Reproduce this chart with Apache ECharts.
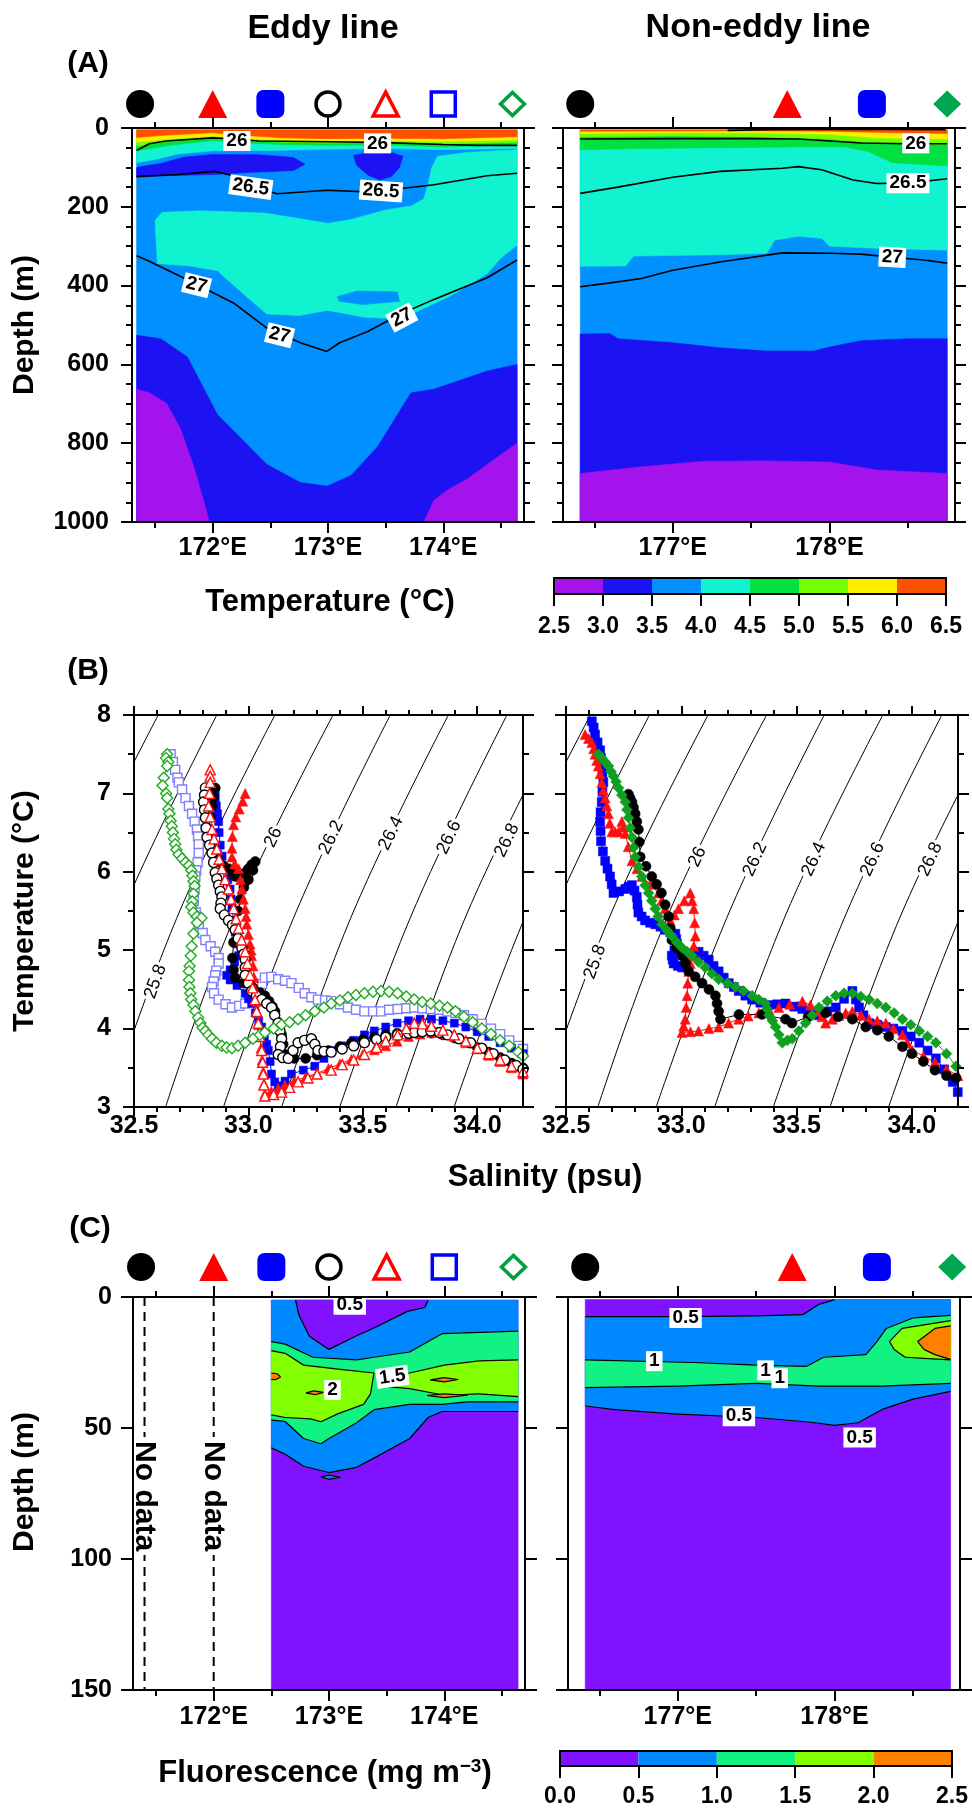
<!DOCTYPE html>
<html>
<head>
<meta charset="utf-8">
<script src="https://cdn.jsdelivr.net/npm/echarts@6.0.0/dist/echarts.min.js"></script>
<style>html,body{margin:0;padding:0;background:#fff;}#chart{width:972px;height:1814px;}</style>
</head>
<body>
<div id="chart"></div>
<script>
// ================= DATA =================
// Colour classes
const tempBreaks = [2.5,3.0,3.5,4.0,4.5,5.0,5.5,6.0,6.5];
const tempColors = ['#a412ec','#1c12f2','#0090ff','#10f2d0','#00e040','#72ff00','#ffee00','#ff5000'];
const fluoBreaks = [0,0.5,1.0,1.5,2.0,2.5];
const fluoColors = ['#8012ff','#0088ff','#12f282','#82ff00','#ff8000'];

// Station longitudes (marker rows)
const stationLonEddy = [171.37,172.0,172.5,173.0,173.5,174.0,174.6];
const stationLonNon = [176.41,177.73,178.27,178.75];

// Axis ticks
const lonTicksEddy = [172,173,174];
const lonMinorEddy = [171.5,172.5,173.5,174.5];
const lonTicksNon = [177,178];
const lonMinorNon = [176.5,177.5,178.5];
const salTicks = [32.5,33.0,33.5,34.0];
const salMinor = [32.6,32.7,32.8,32.9,33.1,33.2,33.3,33.4,33.6,33.7,33.8,33.9,34.1];

// ---- (A) Temperature section, eddy line : [lon, depth] outlines of colour classes
const A_eddy_base = [[171.34,5],[174.64,5],[174.64,1000],[171.34,1000]];
const A_eddy_deepBlue = [[171.34,526],[171.55,535],[171.78,581],[172.04,727],[172.47,854],[172.76,900],[172.99,909],[173.2,882],[173.43,809],[173.72,672],[173.92,663],[174.38,617],[174.64,600],[174.64,1000],[171.34,1000]];
const A_eddy_purpleW = [[171.34,663],[171.45,672],[171.6,699],[171.72,763],[171.83,854],[171.92,945],[171.97,1000],[171.34,1000]];
const A_eddy_purpleE = [[173.83,1000],[173.92,945],[174.04,918],[174.21,891],[174.38,854],[174.64,800],[174.64,1000]];
const A_eddy_cyanCore = [[171.50,235],[171.56,214],[171.9,210],[172.45,216],[172.75,230],[173.0,242],[173.2,232],[173.5,208],[173.72,198],[173.83,180],[173.87,140],[173.9,100],[173.95,72],[174.2,62],[174.64,55],[174.64,297],[174.5,330],[174.38,370],[174.07,425],[173.78,465],[173.63,485],[173.3,480],[173.1,468],[172.99,463],[172.75,476],[172.47,472],[172.3,430],[172.04,362],[171.8,350],[171.52,344]];
const A_eddy_tongue = [[173.08,428],[173.25,414],[173.6,416],[173.62,440],[173.3,448],[173.1,440]];
const A_eddy_top44 = [[171.34,5],[174.64,5],[174.64,52],[174.0,55],[173.5,52],[173.0,54],[172.5,57],[172.0,58],[171.7,66],[171.5,80],[171.34,88]];
const A_eddy_blobW = [[171.34,100],[171.34,125],[171.6,121],[172.0,118],[172.3,113],[172.7,108],[172.8,92],[172.7,75],[172.4,68],[172.0,67],[171.75,74],[171.55,90],[171.4,97]];
const A_eddy_blobE = [[173.22,70],[173.35,62],[173.55,62],[173.65,72],[173.62,100],[173.55,123],[173.45,132],[173.35,120],[173.25,95]];
const A_eddy_top45 = [[171.34,5],[174.64,5],[174.64,42],[174.0,48],[173.5,43],[173.0,44],[172.6,42],[172.3,38],[172.0,32],[171.6,45],[171.34,58]];
const A_eddy_top50 = [[171.34,5],[174.64,5],[174.64,36],[174.0,40],[173.5,37],[173.0,38],[172.6,36],[172.3,32],[172.0,26],[171.6,35],[171.34,46]];
const A_eddy_top55 = [[171.34,5],[174.64,5],[174.64,30],[174.0,34],[173.5,32],[173.0,33],[172.6,31],[172.3,27],[172.0,20],[171.6,28],[171.34,36]];
const A_eddy_top60 = [[171.34,5],[174.64,5],[174.64,22],[174.0,27],[173.5,26],[173.0,27],[172.6,25],[172.3,19],[172.0,12],[171.6,18],[171.34,24]];
// isopycnals (sigma-theta) on eddy section
const A_eddy_sig26 = [[171.34,57],[171.45,40],[171.6,33],[172.0,25],[172.2,28],[172.4,33],[173.0,35],[173.5,37],[174.0,42],[174.3,44],[174.64,44]];
const A_eddy_sig265 = [[171.34,123],[171.7,118],[172.01,110],[172.18,121],[172.35,150],[172.56,167],[172.99,158],[173.34,162],[173.6,155],[173.92,144],[174.38,121],[174.64,115]];
const A_eddy_sig27 = [[171.34,324],[171.45,338],[171.78,385],[172.18,444],[172.47,508],[172.76,545],[172.99,567],[173.1,545],[173.34,517],[173.63,472],[173.92,435],[174.38,380],[174.64,335]];
const A_eddy_labels = [['26',172.21,33,0],['26',173.43,39,0],['26.5',172.33,150,-8],['26.5',173.46,160,-4],['27',171.86,399,-14],['27',172.58,526,-14],['27',173.64,481,28]];

// ---- (A) Temperature section, non-eddy line
const A_non_base = [[176.41,5],[178.75,5],[178.75,1000],[176.41,1000]];
const A_non_cyan = [[176.41,5],[178.75,5],[178.75,310],[178.3,305],[178.0,300],[177.95,280],[177.8,275],[177.65,285],[177.6,318],[177.3,322],[176.75,325],[176.7,350],[176.41,351]];
const A_non_deepBlue = [[176.41,523],[176.6,522],[176.65,535],[177.0,545],[177.3,558],[177.6,566],[177.9,566],[178.0,556],[178.2,540],[178.5,535],[178.75,535],[178.75,1000],[176.41,1000]];
const A_non_purple = [[176.41,877],[176.8,860],[177.2,846],[177.6,845],[178.0,848],[178.3,868],[178.75,877],[178.75,1000],[176.41,1000]];
const A_non_top45 = [[176.41,5],[178.75,5],[178.75,96],[178.4,88],[178.25,60],[178.1,48],[177.8,48],[177.3,50],[176.8,52],[176.41,55]];
const A_non_top50 = [[176.41,5],[178.75,5],[178.75,42],[178.3,38],[178.0,28],[177.5,22],[177.0,20],[176.41,22]];
const A_non_top55 = [[176.41,5],[178.75,5],[178.75,28],[178.3,25],[178.0,16],[177.5,12],[177.0,12],[176.41,14]];
const A_non_top60 = [[176.41,5],[178.75,5],[178.75,14],[178.4,12],[178.0,8],[177.5,7],[176.41,8]];
const A_non_sigTop = [[177.35,6],[177.6,4],[178.1,3],[178.74,4]];
const A_non_sig26 = [[176.41,28],[177.0,27],[177.5,27],[177.8,28],[178.0,33],[178.2,38],[178.5,40],[178.75,40]];
const A_non_sig265 = [[176.41,166],[176.65,150],[177.0,125],[177.3,110],[177.7,102],[177.8,98],[177.95,106],[178.15,132],[178.3,141],[178.5,140],[178.75,129]];
const A_non_sig27 = [[176.41,403],[176.6,393],[176.8,382],[177.0,361],[177.3,340],[177.7,317],[178.0,318],[178.2,320],[178.4,328],[178.6,335],[178.75,343]];
const A_non_labels = [['26',178.55,39,0],['26.5',178.5,140,0],['27',178.4,328,-3]];

// ---- (C) Fluorescence section, eddy line
const C_eddy_base = [[172.5,1.2],[174.64,1.2],[174.64,150],[172.5,150]];
const C_eddy_upper = [[172.5,1.2],[174.64,1.2],[174.64,43.7],[173.98,43.7],[173.86,46],[173.7,54],[173.39,61.5],[173.24,65],[173.0,67],[172.78,64.6],[172.62,60],[172.5,57.6]];
const C_eddy_bit = [[172.93,68.6],[173.0,68.0],[173.1,68.8],[173.0,69.6]];
const C_eddy_topLow = [[172.71,1.2],[173.86,1.2],[173.83,4],[173.68,5.5],[173.38,12],[173.23,15],[173.0,20],[172.83,15],[172.74,7]];
const C_eddy_band = [[172.5,17],[172.62,18],[172.86,23],[173.24,24],[173.39,23],[173.7,21],[173.98,14],[174.64,13],[174.64,40],[174.2,40],[173.98,41],[173.7,41],[173.39,43],[173.24,48],[173.0,54],[172.93,56],[172.78,54],[172.62,47.5],[172.5,47]];
const C_eddy_peakW = [[172.5,20.5],[172.62,21.5],[172.78,26],[173.08,27.5],[173.39,29],[173.36,37],[173.3,41],[173.08,44.5],[172.93,47.6],[172.84,46.5],[172.62,46],[172.5,45]];
const C_eddy_peakE = [[173.42,32],[173.7,29],[174.0,26],[174.3,24.4],[174.64,24],[174.64,38],[174.3,37],[174.0,37.5],[173.7,35],[173.45,34]];
const C_eddy_max1 = [[172.5,29],[172.55,29.3],[172.58,30.5],[172.54,31.5],[172.5,31.5]];
const C_eddy_max2 = [[172.8,36.6],[172.87,35.8],[172.95,36.4],[172.88,37.3]];
const C_eddy_max3 = [[173.88,31.6],[174.0,30.8],[174.12,31.5],[174.0,32.4]];
const C_eddy_max4 = [[173.85,37.6],[174.0,37.0],[174.2,37.5],[174.0,38.4]];
const C_eddy_labels = [['0.5',173.18,3,0],['1.5',173.55,30.5,8],['2',173.03,35.5,0]];
const noDataLon = [171.40,172.0];
const noDataDepth = [0,150];
const noDataTextDepth = 76;

// ---- (C) Fluorescence section, non-eddy line
const C_non_base = [[176.41,1],[178.74,1],[178.74,150],[176.41,150]];
const C_non_upper = [[176.41,7.5],[177.0,7.5],[177.5,7.2],[177.8,6.7],[177.9,2.8],[178.0,1],[178.74,1],[178.74,36],[178.5,39],[178.3,43],[178.15,48],[178.0,49],[177.85,47.8],[177.5,46],[177.0,44.7],[176.6,43],[176.41,41.6]];
const C_non_band = [[176.41,24],[177.1,25],[177.5,26],[177.82,26.5],[177.93,23],[178.2,22],[178.27,17],[178.33,12],[178.5,8],[178.74,7],[178.74,33],[178.3,34],[177.9,34],[177.5,33],[177.0,34],[176.41,34.6]];
const C_non_peak = [[178.35,17],[178.43,12],[178.74,9],[178.74,24],[178.6,23.5],[178.45,23],[178.38,20]];
const C_non_max = [[178.53,17],[178.64,12],[178.74,11],[178.74,23.8],[178.64,22],[178.57,20]];
const C_non_labels = [['0.5',177.05,8,0],['1',176.85,24.5,0],['1',177.56,28,0],['1',177.65,31,0],['0.5',177.39,45.5,0],['0.5',178.16,53.6,0]];

// ---- (B) T-S diagram : isopycnals (S at T = 3, 5.5, 8)
const sigmaLevels = [25.4,25.6,25.8,26.0,26.2,26.4,26.6,26.8,27.0];
const sigmaT = [3,5.5,8];
const sigmaS = [[31.88,32.19,32.606],[32.13,32.45,32.862],[32.385,32.70,33.116],[32.638,32.95,33.37],[32.891,33.21,33.62],[33.145,33.46,33.874],[33.399,33.72,34.13],[33.645,33.96,34.38],[33.899,34.22,34.63]];
const sigLabEddy = [['25.8',32.594,4.60,70],['26',33.109,6.44,64],['26.2',33.362,6.44,64],['26.4',33.623,6.49,64],['26.6',33.877,6.44,64],['26.8',34.13,6.40,64]];
const sigLabNon = [['25.8',32.626,4.85,70],['26',33.07,6.19,65],['26.2',33.32,6.16,65],['26.4',33.575,6.16,65],['26.6',33.83,6.16,65],['26.8',34.08,6.16,65]];

// ---- (B) T-S profiles, eddy line  [salinity, temperature]
const ts_E_openBlue = [[32.66,7.50],[32.67,7.40],[32.68,7.30],[32.69,7.20],[32.696,7.14],[32.71,7.05],[32.725,6.94],[32.74,6.84],[32.754,6.74],[32.765,6.64],[32.775,6.54],[32.78,6.45],[32.783,6.35],[32.783,6.24],[32.778,6.12],[32.772,6.02],[32.768,5.94],[32.765,5.80],[32.761,5.63],[32.77,5.48],[32.783,5.33],[32.80,5.22],[32.812,5.13],[32.835,5.05],[32.855,4.98],[32.87,4.90],[32.87,4.83],[32.86,4.74],[32.855,4.68],[32.848,4.60],[32.841,4.53],[32.85,4.45],[32.87,4.37],[32.90,4.31],[32.928,4.27],[32.96,4.29],[32.986,4.32],[33.015,4.40],[33.043,4.48],[33.06,4.57],[33.072,4.65],[33.10,4.66],[33.13,4.63],[33.16,4.61],[33.188,4.58],[33.22,4.52],[33.246,4.45],[33.275,4.40],[33.304,4.37],[33.335,4.36],[33.362,4.35],[33.40,4.31],[33.435,4.27],[33.47,4.24],[33.507,4.22],[33.545,4.22],[33.58,4.22],[33.615,4.24],[33.652,4.25],[33.69,4.26],[33.725,4.27],[33.76,4.26],[33.797,4.25],[33.835,4.24],[33.87,4.22],[33.905,4.20],[33.942,4.17],[33.98,4.12],[34.02,4.06],[34.06,4.00],[34.10,3.93],[34.14,3.85],[34.18,3.78],[34.20,3.74]];
const ts_E_blue = [[32.855,7.04],[32.855,6.94],[32.86,6.84],[32.865,6.74],[32.87,6.64],[32.872,6.50],[32.877,6.34],[32.885,6.20],[32.899,6.04],[32.91,5.90],[32.92,5.78],[32.925,5.65],[32.928,5.53],[32.935,5.38],[32.942,5.23],[32.95,5.08],[32.957,4.93],[32.94,4.85],[32.92,4.75],[32.905,4.68],[32.92,4.62],[32.95,4.55],[32.986,4.45],[33.0,4.38],[33.014,4.32],[33.03,4.20],[33.045,4.10],[33.058,4.02],[33.07,3.90],[33.08,3.80],[33.087,3.72],[33.095,3.58],[33.101,3.42],[33.115,3.32],[33.13,3.27],[33.16,3.33],[33.188,3.42],[33.24,3.47],[33.29,3.52],[33.33,3.62],[33.362,3.72],[33.41,3.78],[33.46,3.85],[33.507,3.92],[33.55,3.97],[33.60,4.02],[33.65,4.07],[33.70,4.10],[33.75,4.12],[33.80,4.12],[33.85,4.10],[33.90,4.07],[33.95,4.02],[34.00,3.96],[34.05,3.90],[34.10,3.82],[34.15,3.75],[34.20,3.68]];
const ts_E_black = [[32.855,7.07],[32.848,6.95],[32.841,6.84],[32.835,6.70],[32.826,6.54],[32.83,6.44],[32.841,6.34],[32.855,6.24],[32.87,6.14],[32.89,6.08],[32.913,6.04],[32.93,5.98],[32.942,5.94],[32.96,5.96],[32.986,5.99],[33.0,6.04],[33.014,6.09],[33.03,6.13],[33.02,6.02],[33.0,5.90],[32.98,5.80],[32.965,5.65],[32.955,5.50],[32.945,5.30],[32.935,5.10],[32.93,4.90],[32.935,4.75],[32.942,4.65],[32.98,4.58],[33.02,4.52],[33.05,4.46],[33.072,4.42],[33.09,4.35],[33.105,4.28],[33.116,4.22],[33.13,4.08],[33.145,3.92],[33.152,3.80],[33.16,3.67],[33.20,3.62],[33.25,3.62],[33.30,3.66],[33.35,3.72],[33.40,3.77],[33.45,3.82],[33.50,3.86],[33.55,3.89],[33.60,3.92],[33.65,3.94],[33.70,3.95],[33.75,3.95],[33.80,3.94],[33.85,3.92],[33.90,3.88],[33.95,3.83],[34.00,3.76],[34.05,3.70],[34.10,3.63],[34.15,3.56],[34.20,3.50]];
const ts_E_red = [[32.986,7.00],[32.975,6.90],[32.96,6.80],[32.945,6.70],[32.935,6.60],[32.93,6.45],[32.928,6.30],[32.928,6.19],[32.94,6.10],[32.957,6.04],[32.965,5.90],[32.971,5.78],[32.978,5.65],[32.986,5.53],[32.99,5.43],[32.993,5.33],[33.0,5.20],[33.007,5.08],[33.012,5.00],[33.014,4.93],[33.02,4.80],[33.025,4.65],[33.03,4.50],[33.035,4.35],[33.04,4.20],[33.045,4.05],[33.05,3.90],[33.055,3.75],[33.06,3.60],[33.065,3.45],[33.068,3.30],[33.072,3.17],[33.10,3.20],[33.13,3.24],[33.16,3.28],[33.20,3.33],[33.25,3.38],[33.30,3.43],[33.35,3.49],[33.40,3.55],[33.45,3.61],[33.50,3.67],[33.55,3.73],[33.60,3.78],[33.65,3.84],[33.70,3.90],[33.75,3.93],[33.80,3.95],[33.85,3.94],[33.90,3.90],[33.95,3.82],[34.00,3.74],[34.05,3.66],[34.10,3.58],[34.15,3.50],[34.20,3.42]];
const ts_E_openBlack = [[32.812,7.07],[32.808,6.98],[32.804,6.89],[32.808,6.79],[32.812,6.69],[32.815,6.56],[32.819,6.44],[32.83,6.34],[32.841,6.24],[32.848,6.12],[32.855,5.99],[32.862,5.91],[32.87,5.83],[32.877,5.75],[32.884,5.68],[32.88,5.60],[32.877,5.53],[32.895,5.45],[32.913,5.38],[32.93,5.32],[32.942,5.26],[32.955,5.15],[32.971,5.03],[32.98,4.95],[32.986,4.88],[32.986,4.78],[32.986,4.68],[33.0,4.58],[33.014,4.48],[33.035,4.42],[33.058,4.37],[33.08,4.32],[33.101,4.27],[33.115,4.17],[33.13,4.07],[33.138,3.97],[33.145,3.87],[33.14,3.77],[33.13,3.67],[33.15,3.63],[33.174,3.62],[33.195,3.72],[33.217,3.82],[33.245,3.85],[33.275,3.87],[33.29,3.80],[33.304,3.72],[33.33,3.71],[33.362,3.70],[33.41,3.74],[33.46,3.78],[33.507,3.82],[33.56,3.86],[33.60,3.89],[33.652,3.92],[33.70,3.94],[33.725,3.95],[33.76,3.96],[33.797,3.97],[33.835,3.95],[33.87,3.92],[33.92,3.87],[33.971,3.82],[34.02,3.75],[34.07,3.68],[34.12,3.60],[34.17,3.53],[34.20,3.48]];
const ts_E_openRed = [[32.833,7.30],[32.833,7.22],[32.833,7.14],[32.83,7.00],[32.826,6.84],[32.833,6.70],[32.841,6.54],[32.85,6.42],[32.862,6.29],[32.872,6.16],[32.884,6.04],[32.898,5.90],[32.913,5.78],[32.924,5.65],[32.935,5.53],[32.946,5.40],[32.957,5.28],[32.97,5.13],[32.986,4.98],[32.996,4.83],[33.007,4.68],[33.018,4.52],[33.029,4.37],[33.036,4.22],[33.043,4.07],[33.05,3.90],[33.058,3.72],[33.062,3.57],[33.065,3.42],[33.068,3.28],[33.072,3.14],[33.11,3.16],[33.145,3.19],[33.18,3.25],[33.217,3.32],[33.26,3.37],[33.30,3.42],[33.362,3.47],[33.41,3.54],[33.46,3.60],[33.507,3.67],[33.56,3.76],[33.60,3.84],[33.652,3.92],[33.69,4.00],[33.725,4.07],[33.76,4.06],[33.80,4.03],[33.85,3.98],[33.90,3.92],[33.95,3.84],[34.00,3.75],[34.05,3.68],[34.10,3.60],[34.15,3.52],[34.20,3.45]];
const ts_E_green = [[32.645,7.50],[32.64,7.45],[32.65,7.40],[32.645,7.35],[32.63,7.20],[32.625,7.10],[32.64,7.00],[32.645,6.94],[32.65,6.80],[32.655,6.74],[32.66,6.65],[32.665,6.58],[32.67,6.50],[32.675,6.42],[32.68,6.35],[32.685,6.28],[32.695,6.22],[32.71,6.17],[32.725,6.12],[32.74,6.08],[32.75,6.02],[32.755,5.95],[32.76,5.88],[32.765,5.82],[32.76,5.72],[32.755,5.62],[32.75,5.55],[32.76,5.48],[32.775,5.43],[32.795,5.41],[32.775,5.35],[32.76,5.21],[32.752,5.05],[32.748,4.93],[32.743,4.80],[32.74,4.73],[32.74,4.62],[32.742,4.53],[32.746,4.45],[32.75,4.37],[32.76,4.30],[32.768,4.22],[32.78,4.14],[32.79,4.07],[32.80,4.01],[32.812,3.97],[32.825,3.92],[32.841,3.87],[32.86,3.82],[32.884,3.78],[32.905,3.76],[32.928,3.75],[32.955,3.78],[32.986,3.82],[33.02,3.87],[33.05,3.92],[33.072,3.95],[33.11,4.00],[33.145,4.05],[33.18,4.08],[33.217,4.12],[33.25,4.17],[33.29,4.22],[33.33,4.27],[33.362,4.32],[33.40,4.36],[33.435,4.40],[33.47,4.43],[33.507,4.45],[33.545,4.47],[33.58,4.48],[33.615,4.47],[33.652,4.45],[33.69,4.41],[33.725,4.37],[33.76,4.34],[33.797,4.32],[33.835,4.29],[33.87,4.27],[33.905,4.22],[33.942,4.15],[33.98,4.08],[34.02,4.00],[34.06,3.93],[34.10,3.85],[34.14,3.78],[34.18,3.70],[34.20,3.65]];

// ---- (B) T-S profiles, non-eddy line
const ts_N_blue = [[32.612,7.92],[32.62,7.84],[32.626,7.75],[32.637,7.65],[32.648,7.55],[32.652,7.45],[32.655,7.35],[32.658,7.25],[32.662,7.14],[32.658,7.02],[32.655,6.89],[32.65,6.76],[32.648,6.64],[32.65,6.52],[32.652,6.39],[32.66,6.26],[32.67,6.14],[32.68,6.04],[32.691,5.94],[32.698,5.84],[32.706,5.73],[32.73,5.75],[32.757,5.78],[32.772,5.81],[32.786,5.83],[32.797,5.76],[32.807,5.68],[32.81,5.58],[32.814,5.48],[32.828,5.43],[32.843,5.38],[32.865,5.35],[32.887,5.33],[32.91,5.30],[32.93,5.26],[32.952,5.23],[32.974,5.21],[32.978,5.14],[32.981,5.08],[32.97,5.00],[32.959,4.93],[32.963,4.88],[32.967,4.83],[32.985,4.80],[33.003,4.78],[33.018,4.85],[33.032,4.93],[33.053,4.96],[33.075,4.98],[33.097,4.93],[33.119,4.88],[33.14,4.80],[33.162,4.73],[33.184,4.65],[33.206,4.58],[33.228,4.53],[33.249,4.48],[33.278,4.42],[33.307,4.37],[33.343,4.33],[33.38,4.30],[33.416,4.31],[33.452,4.32],[33.49,4.28],[33.525,4.25],[33.56,4.21],[33.597,4.17],[33.633,4.22],[33.67,4.27],[33.706,4.38],[33.742,4.48],[33.757,4.37],[33.771,4.27],[33.79,4.17],[33.814,4.07],[33.85,4.05],[33.887,4.02],[33.92,4.00],[33.959,3.97],[33.995,3.90],[34.032,3.82],[34.068,3.72],[34.104,3.62],[34.14,3.48],[34.177,3.32],[34.199,3.19]];
const ts_N_red = [[32.583,7.75],[32.598,7.70],[32.612,7.65],[32.62,7.57],[32.626,7.50],[32.633,7.42],[32.64,7.35],[32.648,7.25],[32.655,7.14],[32.662,7.04],[32.67,6.94],[32.677,6.84],[32.684,6.74],[32.69,6.62],[32.699,6.51],[32.713,6.51],[32.728,6.51],[32.742,6.64],[32.75,6.57],[32.757,6.49],[32.77,6.32],[32.786,6.14],[32.808,6.04],[32.829,5.94],[32.865,5.84],[32.901,5.73],[32.915,5.63],[32.93,5.53],[32.941,5.45],[32.952,5.38],[32.97,5.45],[32.988,5.53],[33.013,5.63],[33.039,5.73],[33.047,5.63],[33.054,5.53],[33.058,5.35],[33.061,5.18],[33.054,5.05],[33.046,4.93],[33.039,4.83],[33.032,4.73],[33.028,4.58],[33.025,4.42],[33.021,4.27],[33.017,4.12],[33.01,4.03],[33.003,3.95],[33.04,3.96],[33.075,3.97],[33.12,4.00],[33.162,4.02],[33.205,4.07],[33.249,4.12],[33.29,4.16],[33.336,4.20],[33.38,4.24],[33.423,4.27],[33.47,4.31],[33.525,4.35],[33.56,4.30],[33.597,4.22],[33.61,4.15],[33.626,4.07],[33.655,4.12],[33.684,4.17],[33.713,4.20],[33.742,4.22],[33.78,4.17],[33.814,4.12],[33.85,4.10],[33.887,4.07],[33.92,4.00],[33.959,3.92],[33.98,3.82],[34.003,3.72],[34.05,3.65],[34.10,3.57],[34.15,3.48],[34.20,3.40]];
const ts_N_black = [[32.771,6.99],[32.778,6.94],[32.786,6.89],[32.793,6.82],[32.80,6.74],[32.807,6.64],[32.814,6.54],[32.818,6.38],[32.822,6.19],[32.847,6.07],[32.872,5.94],[32.893,5.84],[32.914,5.73],[32.93,5.58],[32.945,5.43],[32.952,5.28],[32.959,5.13],[32.98,5.03],[33.003,4.93],[33.018,4.83],[33.032,4.73],[33.06,4.66],[33.09,4.58],[33.12,4.50],[33.148,4.42],[33.155,4.32],[33.162,4.22],[33.17,4.12],[33.25,4.18],[33.35,4.18],[33.452,4.12],[33.48,4.07],[33.55,4.15],[33.626,4.20],[33.68,4.15],[33.742,4.12],[33.80,4.02],[33.85,3.98],[33.90,3.90],[33.959,3.77],[34.00,3.68],[34.05,3.58],[34.10,3.47],[34.15,3.40],[34.191,3.37]];
const ts_N_green = [[32.641,7.50],[32.655,7.45],[32.67,7.40],[32.684,7.35],[32.695,7.28],[32.706,7.22],[32.717,7.15],[32.728,7.07],[32.742,6.98],[32.757,6.89],[32.764,6.79],[32.771,6.69],[32.778,6.56],[32.786,6.44],[32.793,6.31],[32.80,6.19],[32.815,6.06],[32.829,5.94],[32.843,5.83],[32.858,5.73],[32.872,5.63],[32.887,5.53],[32.90,5.43],[32.916,5.33],[32.938,5.25],[32.959,5.18],[32.98,5.10],[33.003,5.03],[33.025,4.98],[33.046,4.93],[33.075,4.85],[33.104,4.78],[33.133,4.70],[33.162,4.63],[33.2,4.58],[33.235,4.53],[33.27,4.48],[33.307,4.42],[33.336,4.37],[33.365,4.32],[33.372,4.25],[33.38,4.17],[33.395,4.10],[33.409,4.02],[33.423,3.92],[33.438,3.82],[33.46,3.85],[33.481,3.87],[33.51,3.97],[33.539,4.07],[33.568,4.17],[33.597,4.27],[33.633,4.35],[33.67,4.42],[33.706,4.45],[33.742,4.45],[33.778,4.41],[33.814,4.37],[33.85,4.32],[33.887,4.27],[33.923,4.20],[33.959,4.12],[33.995,4.05],[34.032,3.97],[34.068,3.90],[34.104,3.82],[34.15,3.68],[34.191,3.52]];

// ================= BUILD =================
const FONT = '"Liberation Sans", Arial, Helvetica, sans-serif';
const AXL = {color:'#000', width:2};
const plain = v => String(v);
const grids = [
  {left:132, top:128, width:392, height:394}, // 0 A eddy
  {left:563, top:128, width:392, height:394}, // 1 A non
  {left:134, top:715, width:389, height:392}, // 2 B eddy
  {left:566, top:715, width:392, height:392}, // 3 B non
  {left:133, top:1297, width:392, height:393}, // 4 C eddy
  {left:568, top:1297, width:392, height:393}, // 5 C non
  {left:554, top:578, width:392, height:16},   // 6 colourbar A
  {left:560, top:1751, width:392, height:15},  // 7 colourbar C
  {left:132, top:89, width:392, height:30},    // 8 markers A eddy
  {left:563, top:89, width:392, height:30},    // 9 markers A non
  {left:133, top:1252, width:392, height:30},  // 10 markers C eddy
  {left:568, top:1252, width:392, height:30}   // 11 markers C non
].map(g => Object.assign({outerBoundsMode:'none', containLabel:false}, g));

const xAxes = [], yAxes = [];
function xAx(gi, pos, xr, ticks, len, labels, fmt, margin, lineShow) {
  return {type:'value', gridIndex:gi, position:pos, min:xr[0], max:xr[1], z:10, splitLine:{show:false},
    axisLine:{show:lineShow, onZero:false, lineStyle:AXL},
    axisTick:{show:true, inside:false, customValues:ticks, length:len, lineStyle:{color:'#000', width:2}},
    axisLabel:{show:!!labels, customValues:labels || ticks, formatter:fmt || plain, margin:margin || 8, fontSize:25, fontWeight:700, color:'#000', fontFamily:FONT},
    minorTick:{show:false}};
}
function yAx(gi, pos, yr, interval, len, minorSplit, minorLen, labels, margin, inverse) {
  return {type:'value', gridIndex:gi, position:pos, min:yr[0], max:yr[1], interval:interval, inverse:inverse, z:10,
    splitLine:{show:false}, minorSplitLine:{show:false},
    axisLine:{show:true, onZero:false, lineStyle:AXL},
    axisTick:{show:true, inside:false, length:len, lineStyle:{color:'#000', width:2}},
    minorTick:{show:minorSplit > 0, splitNumber:minorSplit || 5, length:minorLen, lineStyle:{color:'#000', width:2}},
    axisLabel:{show:labels, margin:margin, formatter:plain, fontSize:25, fontWeight:700, color:'#000', fontFamily:FONT}};
}
function buildBox(gi, xr, xMaj, xMin, xFmt, yr, yInt, yMinor, yInv, yLab, o) {
  const xi = xAxes.length;
  xAxes.push(xAx(gi, 'bottom', xr, xMaj, o.xMajLen, xMaj, xFmt, o.xMargin, true));
  xAxes.push(xAx(gi, 'bottom', xr, xMin, o.xMinLen, null, null, 0, false));
  xAxes.push(xAx(gi, 'top', xr, xMaj, o.xMajLen, null, null, 0, true));
  xAxes.push(xAx(gi, 'top', xr, xMin, o.xMinLen, null, null, 0, false));
  const yi = yAxes.length;
  yAxes.push(yAx(gi, 'left', yr, yInt, o.yMajLen, yMinor, o.yMinLen, yLab, o.yMargin, yInv));
  yAxes.push(yAx(gi, 'right', yr, yInt, o.yMajLen, yMinor, o.yMinLen, false, 8, yInv));
  return [xi, yi];
}
const lonFmt = v => v + '°E';
const salFmt = v => v.toFixed(1);
const secOpt = {xMajLen:11, xMinLen:6, xMargin:14, yMajLen:11, yMinLen:6, yMargin:23};
const [axAE, ayAE] = buildBox(0, [171.3,174.7], lonTicksEddy, lonMinorEddy, lonFmt, [0,1000], 200, 4, true, true, secOpt);
const [axAN, ayAN] = buildBox(1, [176.3,178.8], lonTicksNon, lonMinorNon, lonFmt, [0,1000], 200, 4, true, false, secOpt);
const tsOpt = {xMajLen:9, xMinLen:5, xMargin:7, yMajLen:11, yMinLen:6, yMargin:23};
const [axBE, ayBE] = buildBox(2, [32.5,34.2], salTicks, salMinor, salFmt, [3,8], 1, 2, false, true, tsOpt);
const [axBN, ayBN] = buildBox(3, [32.5,34.2], salTicks, salMinor, salFmt, [3,8], 1, 2, false, false, tsOpt);
const cOpt = {xMajLen:11, xMinLen:6, xMargin:15, yMajLen:12, yMinLen:6, yMargin:21};
const [axCE, ayCE] = buildBox(4, [171.3,174.7], lonTicksEddy, lonMinorEddy, lonFmt, [0,150], 50, 0, true, true, cOpt);
const [axCN, ayCN] = buildBox(5, [176.3,178.8], lonTicksNon, lonMinorNon, lonFmt, [0,150], 50, 0, true, false, cOpt);

// colourbars
function buildBar(gi, breaks, margin) {
  const xi = xAxes.length;
  xAxes.push({type:'value', gridIndex:gi, position:'bottom', min:breaks[0], max:breaks[breaks.length-1], interval:0.5, z:10,
    splitLine:{show:false}, axisLine:{show:true, onZero:false, lineStyle:AXL},
    axisTick:{show:true, length:12, lineStyle:{color:'#000', width:2}},
    axisLabel:{show:true, margin:margin, formatter:v => v.toFixed(1), fontSize:23, fontWeight:700, color:'#000', fontFamily:FONT}});
  xAxes.push({type:'value', gridIndex:gi, position:'top', min:breaks[0], max:breaks[breaks.length-1], z:10,
    splitLine:{show:false}, axisLine:{show:true, onZero:false, lineStyle:AXL}, axisTick:{show:false}, axisLabel:{show:false}});
  const yi = yAxes.length;
  ['left','right'].forEach(p => yAxes.push({type:'value', gridIndex:gi, position:p, min:0, max:1, z:10,
    splitLine:{show:false}, axisLine:{show:true, onZero:false, lineStyle:AXL}, axisTick:{show:false}, axisLabel:{show:false}}));
  return [xi, yi];
}
const [axBarA, ayBarA] = buildBar(6, tempBreaks, 21);
const [axBarC, ayBarC] = buildBar(7, fluoBreaks, 19);

// marker rows
function buildHidden(gi, xr) {
  const xi = xAxes.length;
  xAxes.push({type:'value', gridIndex:gi, min:xr[0], max:xr[1], show:false});
  const yi = yAxes.length;
  yAxes.push({type:'value', gridIndex:gi, min:0, max:1, show:false});
  return [xi, yi];
}
const mAE = buildHidden(8, [171.3,174.7]);
const mAN = buildHidden(9, [176.3,178.8]);
const mCE = buildHidden(10, [171.3,174.7]);
const mCN = buildHidden(11, [176.3,178.8]);

// --- series helpers
function onEdge(a, b, B) {
  const e = 1e-6;
  return (Math.abs(a[0]-B[0]) < e && Math.abs(b[0]-B[0]) < e) || (Math.abs(a[0]-B[1]) < e && Math.abs(b[0]-B[1]) < e) ||
         (Math.abs(a[1]-B[2]) < e && Math.abs(b[1]-B[2]) < e) || (Math.abs(a[1]-B[3]) < e && Math.abs(b[1]-B[3]) < e);
}
function sectionSeries(xi, yi, regions, colors, bounds) {
  return {type:'custom', xAxisIndex:xi, yAxisIndex:yi, silent:true, z:2, animation:false,
    data: regions.map((r, i) => [r.pts[0][0], r.pts[0][1], i]),
    renderItem(params, api) {
      const r = regions[params.dataIndex];
      const pts = r.pts.map(p => api.coord(p));
      const ch = [{type:'polygon', shape:{points:pts}, style:{fill:colors[r.c], stroke:colors[r.c], lineWidth:0.6}}];
      if (r.line) {
        const n = r.pts.length;
        for (let i = 0; i < n; i++) {
          const j = (i + 1) % n;
          if (onEdge(r.pts[i], r.pts[j], bounds)) continue;
          ch.push({type:'line', shape:{x1:pts[i][0], y1:pts[i][1], x2:pts[j][0], y2:pts[j][1]}, style:{stroke:'#000', lineWidth:1.2}});
        }
      }
      return {type:'group', children:ch};
    }};
}
function contourLine(xi, yi, data, w) {
  return {type:'line', xAxisIndex:xi, yAxisIndex:yi, data:data, symbol:'none', silent:true, z:3, animation:false,
    lineStyle:{color:'#000', width:w || 1.6}, emphasis:{disabled:true}};
}
function labelSeries(xi, yi, labs, size, weight, pad) {
  return {type:'scatter', xAxisIndex:xi, yAxisIndex:yi, z:6, silent:true, symbolSize:1, clip:false, animation:false,
    itemStyle:{color:'rgba(0,0,0,0)', opacity:1}, emphasis:{disabled:true},
    data: labs.map(l => ({value:[l[1], l[2]], name:l[0], label:{rotate:l[3]}})),
    label:{show:true, position:'inside', formatter:p => p.name, fontSize:size, fontWeight:weight, fontFamily:FONT,
      color:'#000', backgroundColor:'#ffffff', padding:pad, opacity:1}};
}
function tsSeries(xi, yi, data, sym, color, open, size) {
  return {type:'line', xAxisIndex:xi, yAxisIndex:yi, data:data, symbol:sym, symbolSize:size, showAllSymbol:true,
    z:5, silent:true, animation:false, emphasis:{disabled:true},
    lineStyle:{color:color, width:1},
    itemStyle: open ? {color:'#fff', borderColor:color, borderWidth:1.4, opacity:1} : {color:color, borderColor:color, borderWidth:0.5, opacity:1}};
}
function barSeries(xi, yi, breaks, colors) {
  return {type:'custom', xAxisIndex:xi, yAxisIndex:yi, silent:true, z:2, animation:false,
    data: colors.map((c, i) => [breaks[i], 0.5, breaks[i+1], i]),
    encode:{x:[0,2], y:1},
    renderItem(params, api) {
      const a = api.coord([api.value(0), 1]), b = api.coord([api.value(2), 0]);
      return {type:'rect', shape:{x:a[0], y:a[1], width:b[0]-a[0], height:b[1]-a[1]}, style:{fill:colors[params.dataIndex]}};
    }};
}
const MK = {
  fc: (c) => ({symbol:'circle', symbolSize:28, itemStyle:{color:c, opacity:1}}),
  ft: (c) => ({symbol:'triangle', symbolSize:[29,28], itemStyle:{color:c, opacity:1}}),
  fs: (c) => ({symbol:'roundRect', symbolSize:28, itemStyle:{color:c, opacity:1}}),
  fd: (c) => ({symbol:'diamond', symbolSize:[28,27], itemStyle:{color:c, opacity:1}}),
  oc: (c) => ({symbol:'circle', symbolSize:24, itemStyle:{color:'#fff', borderColor:c, borderWidth:3.5, opacity:1}}),
  ot: (c) => ({symbol:'triangle', symbolSize:[25,24], itemStyle:{color:'#fff', borderColor:c, borderWidth:3.5, opacity:1}}),
  os: (c) => ({symbol:'rect', symbolSize:24, itemStyle:{color:'#fff', borderColor:c, borderWidth:3.5, opacity:1}}),
  od: (c) => ({symbol:'diamond', symbolSize:[24,23], itemStyle:{color:'#fff', borderColor:c, borderWidth:3.5, opacity:1}})
};
const eddyMarkers = [MK.fc('#000'), MK.ft('#ff0000'), MK.fs('#0000ff'), MK.oc('#000'), MK.ot('#ff0000'), MK.os('#0000ff'), MK.od('#00a040')];
const nonMarkers = [MK.fc('#000'), MK.ft('#ff0000'), MK.fs('#0000ff'), MK.fd('#00a650')];
function markerSeries(m, lons, styles) {
  return {type:'scatter', xAxisIndex:m[0], yAxisIndex:m[1], silent:true, clip:false, z:5, animation:false,
    itemStyle:{opacity:1}, emphasis:{disabled:true},
    data: lons.map((lon, i) => Object.assign({value:[lon, 0.5]}, styles[i]))};
}

const series = [];
// (A)
const TE = [
  {pts:A_eddy_base, c:2}, {pts:A_eddy_deepBlue, c:1}, {pts:A_eddy_purpleW, c:0}, {pts:A_eddy_purpleE, c:0},
  {pts:A_eddy_cyanCore, c:3}, {pts:A_eddy_tongue, c:2}, {pts:A_eddy_top44, c:3}, {pts:A_eddy_blobW, c:1},
  {pts:A_eddy_blobE, c:1}, {pts:A_eddy_top45, c:4}, {pts:A_eddy_top50, c:5}, {pts:A_eddy_top55, c:6}, {pts:A_eddy_top60, c:7}];
series.push(sectionSeries(axAE, ayAE, TE, tempColors, [171.34,174.64,5,1000]));
[A_eddy_sig26, A_eddy_sig265, A_eddy_sig27].forEach(d => series.push(contourLine(axAE, ayAE, d)));
series.push(labelSeries(axAE, ayAE, A_eddy_labels, 19, 'bold', [1,3,0,3]));
const TN = [
  {pts:A_non_base, c:2}, {pts:A_non_cyan, c:3}, {pts:A_non_deepBlue, c:1}, {pts:A_non_purple, c:0},
  {pts:A_non_top45, c:4}, {pts:A_non_top50, c:5}, {pts:A_non_top55, c:6}, {pts:A_non_top60, c:7}];
series.push(sectionSeries(axAN, ayAN, TN, tempColors, [176.41,178.75,5,1000]));
[A_non_sigTop, A_non_sig26, A_non_sig265, A_non_sig27].forEach(d => series.push(contourLine(axAN, ayAN, d)));
series.push(labelSeries(axAN, ayAN, A_non_labels, 19, 'bold', [1,3,0,3]));
series.push(markerSeries(mAE, stationLonEddy, eddyMarkers));
series.push(markerSeries(mAN, stationLonNon, nonMarkers));
series.push(barSeries(axBarA, ayBarA, tempBreaks, tempColors));

// (B)
[[axBE, ayBE, sigLabEddy], [axBN, ayBN, sigLabNon]].forEach(([xi, yi, labs]) => {
  sigmaLevels.forEach((lev, i) => {
    series.push({type:'line', xAxisIndex:xi, yAxisIndex:yi, data: sigmaT.map((t, j) => [sigmaS[i][j], t]),
      smooth:0.4, symbol:'none', silent:true, z:3, clip:true, animation:false, lineStyle:{color:'#000', width:1}, emphasis:{disabled:true}});
  });
  series.push(labelSeries(xi, yi, labs, 18, 'normal', [0,2]));
});
series.push(tsSeries(axBE, ayBE, ts_E_openBlue, 'rect', '#7f7fff', true, 9));
series.push(tsSeries(axBE, ayBE, ts_E_blue, 'rect', '#0000ff', false, 8));
series.push(tsSeries(axBE, ayBE, ts_E_black, 'circle', '#000', false, 10));
series.push(tsSeries(axBE, ayBE, ts_E_red, 'triangle', '#ff1010', false, 10));
series.push(tsSeries(axBE, ayBE, ts_E_openBlack, 'circle', '#000', true, 10));
series.push(tsSeries(axBE, ayBE, ts_E_openRed, 'triangle', '#ff1010', true, 10));
series.push(tsSeries(axBE, ayBE, ts_E_green, 'diamond', '#22aa22', true, 11));
series.push(tsSeries(axBN, ayBN, ts_N_blue, 'rect', '#0000ff', false, 9));
series.push(tsSeries(axBN, ayBN, ts_N_red, 'triangle', '#ff1010', false, 10));
series.push(tsSeries(axBN, ayBN, ts_N_black, 'circle', '#000', false, 10));
series.push(tsSeries(axBN, ayBN, ts_N_green, 'diamond', '#10a020', false, 11));

// (C)
const FE = [
  {pts:C_eddy_base, c:0}, {pts:C_eddy_upper, c:1, line:true}, {pts:C_eddy_bit, c:1, line:true}, {pts:C_eddy_topLow, c:0, line:true},
  {pts:C_eddy_band, c:2, line:true}, {pts:C_eddy_peakW, c:3, line:true}, {pts:C_eddy_peakE, c:3, line:true},
  {pts:C_eddy_max1, c:4, line:true}, {pts:C_eddy_max2, c:4, line:true}, {pts:C_eddy_max3, c:4, line:true}, {pts:C_eddy_max4, c:4, line:true}];
series.push(sectionSeries(axCE, ayCE, FE, fluoColors, [172.5,174.64,1.2,150]));
series.push(labelSeries(axCE, ayCE, C_eddy_labels, 19, 'bold', [1,3,0,3]));
noDataLon.forEach(lon => {
  series.push({type:'line', xAxisIndex:axCE, yAxisIndex:ayCE, data: noDataDepth.map(d => [lon, d]), symbol:'none', silent:true, z:3,
    animation:false, lineStyle:{color:'#000', width:2, type:[9,6]}, emphasis:{disabled:true}});
});
series.push({type:'scatter', xAxisIndex:axCE, yAxisIndex:ayCE, z:6, silent:true, symbolSize:1, animation:false,
  itemStyle:{color:'rgba(0,0,0,0)', opacity:1}, emphasis:{disabled:true},
  data: noDataLon.map(lon => [lon, noDataTextDepth]),
  label:{show:true, position:'inside', rotate:-90, formatter:'No data', fontSize:30, fontWeight:'bold', fontFamily:FONT,
    color:'#000', backgroundColor:'#ffffff', padding:[0,4], opacity:1}});
const FN = [
  {pts:C_non_base, c:0}, {pts:C_non_upper, c:1, line:true}, {pts:C_non_band, c:2, line:true},
  {pts:C_non_peak, c:3, line:true}, {pts:C_non_max, c:4, line:true}];
series.push(sectionSeries(axCN, ayCN, FN, fluoColors, [176.41,178.74,1,150]));
series.push(labelSeries(axCN, ayCN, C_non_labels, 19, 'bold', [1,3,0,3]));
series.push(markerSeries(mCE, stationLonEddy, eddyMarkers));
series.push(markerSeries(mCN, stationLonNon, nonMarkers));
series.push(barSeries(axBarC, ayBarC, fluoBreaks, fluoColors));

// --- texts
function txt(text, x, y, size, rot) {
  return {type:'text', x:x, y:y, rotation:rot || 0, silent:true, z:100,
    style:{text:text, font:'bold ' + size + 'px ' + FONT, fill:'#000', align:'center', verticalAlign:'middle', textAlign:'center', textVerticalAlign:'middle'}};
}
const graphic = [
  txt('Eddy line', 323, 29, 34),
  txt('Non-eddy line', 758, 28, 34),
  txt('(A)', 88, 64, 30),
  txt('(B)', 88, 671, 30),
  txt('(C)', 90, 1229, 30),
  txt('Depth (m)', 25, 325, 30, Math.PI / 2),
  txt('Temperature (°C)', 25, 911, 30, Math.PI / 2),
  txt('Depth (m)', 25, 1482, 30, Math.PI / 2),
  txt('Temperature (°C)', 330, 602, 31),
  txt('Salinity (psu)', 545, 1177, 31),
  {type:'text', x:325, y:1773, silent:true, z:100,
    style:{text:'{a|Fluorescence (mg m}{s|−3}{a|)}', align:'center', verticalAlign:'middle', textAlign:'center', textVerticalAlign:'middle',
      rich:{a:{font:'bold 31px ' + FONT, fill:'#000', color:'#000'}, s:{font:'bold 19px ' + FONT, fill:'#000', color:'#000', verticalAlign:'top'}}}}
];

const chart = echarts.init(document.getElementById('chart'), null, {renderer:'canvas', width:972, height:1814});
chart.setOption({
  animation:false,
  backgroundColor:'#ffffff',
  textStyle:{fontFamily:FONT},
  grid:grids,
  xAxis:xAxes,
  yAxis:yAxes,
  series:series,
  graphic:graphic
});
</script>
</body>
</html>
